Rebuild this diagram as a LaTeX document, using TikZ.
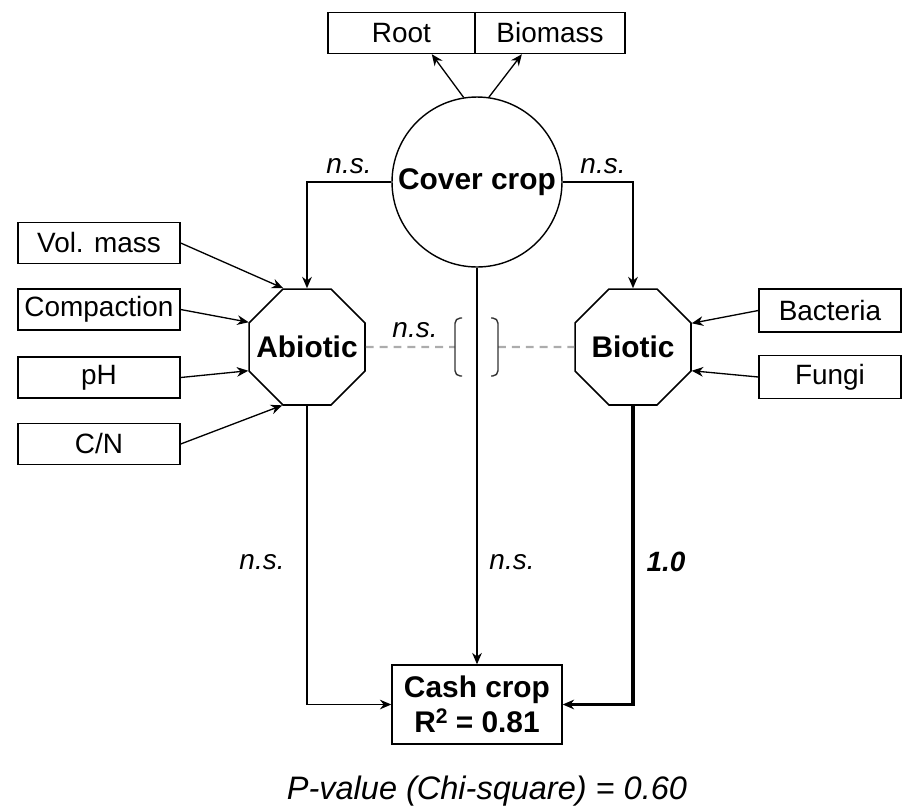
\documentclass[tikz,border=0pt]{standalone}
\usepackage{fontspec}
\setmainfont{Liberation Sans}
\usetikzlibrary{arrows.meta,shapes.geometric}

\begin{document}
\begin{tikzpicture}[x=0.02cm,y=-0.02cm,
  var/.style={draw,line width=0.8pt,minimum height=0.82cm,inner sep=0pt,font=\fontsize{15.9}{18}\selectfont},
  latent/.style={draw,line width=0.9pt,regular polygon,regular polygon sides=8,minimum size=2.51cm,inner sep=0pt,font=\fontsize{17}{20}\selectfont\bfseries},
  link/.style={line width=0.75pt,-{Stealth[length=6.5pt,width=5.5pt]}},
  gdash/.style={draw=gray!65,line width=1.3pt,dash pattern=on 4.5pt off 3.4pt},
  nslab/.style={font=\fontsize{15.9}{18}\selectfont\itshape}]
  \useasboundingbox (0,0) rectangle (907,806);
  % cover crop and its traits
  \node[circle,draw,line width=0.8pt,minimum size=3.4cm,inner sep=0pt,font=\fontsize{17}{20}\selectfont\bfseries] (cover) at (477,182) {Cover crop};
  \node[var,minimum width=2.94cm] (root) at (401.5,33) {Root};
  \node[var,minimum width=3cm] (bmass) at (550,33) {Biomass};
  \draw[link] (cover.99.7) -- (root.-35);
  \draw[link] (cover.82.4) -- (bmass.-143.5);
  % soil compartments
  \node[latent] (abio) at (307,347) {\makebox[0pt]{Abiotic}};
  \node[latent] (bio) at (633,347) {\makebox[0pt]{Biotic}};
  \foreach \j/\y/\a/\t in {1/243/112.5/Vol. mass,2/309.5/157.5/Compaction,3/377.5/202.5/pH,4/444/247.5/{C/N}} {
    \node[var,minimum width=3.24cm] (s\j) at (99,\y) {\t};
    \draw[link] (s\j.east) -- (abio.\a);
  }
  \foreach \j/\y/\a/\t in {1/310.5/22.5/Bacteria,2/377/-22.5/Fungi} {
    \node[var,minimum width=2.84cm,minimum height=0.86cm] (m\j) at (830,\y) {\t};
    \draw[link] (m\j.west) -- (bio.\a);
  }
  \node[var,minimum width=3.4cm,minimum height=1.58cm,align=center,font=\fontsize{17}{20}\selectfont\bfseries] (cash) at (477,704.5) {Cash crop\\R{\fontsize{12}{12}\selectfont\raisebox{5pt}{2}} = 0.81};
  \draw[link] (cover.west) -| (abio.north);
  \draw[link] (cover.east) -| (bio.north);
  \draw[link] (cover.south) -- (cash.north);
  \draw[link] (abio.south) |- (cash.west);
  \draw[link,line width=2pt] (bio.south) |- (cash.east);
  % covariance between compartments
  \coordinate (bl) at (455,347);
  \coordinate (br) at (498,347);
  \draw[gdash] (abio.east) -- (bl);
  \draw[gdash] (br) -- (bio.west);
  \draw[black!80,line width=0.8pt,rounded corners=3pt] (462,318) -- (455,318) -- (455,376) -- (462,376);
  \draw[black!80,line width=0.8pt,rounded corners=3pt] (491,318) -- (498,318) -- (498,376) -- (491,376);
  \node[nslab] (ns1) at (349,166) {n.s.};
  \node[nslab] (ns2) at (603,166) {n.s.};
  \node[nslab] (ns3) at (415,330) {n.s.};
  \node[nslab] (ns4) at (262,562) {n.s.};
  \node[nslab] (ns5) at (512,562) {n.s.};
  \node[font=\fontsize{15.9}{18}\selectfont\bfseries\itshape] (coef) at (666,562) {1.0};
  \node[font=\fontsize{18.5}{22}\selectfont\itshape] (pval) at (487,791) {P-value (Chi-square) = 0.60};
\end{tikzpicture}
\end{document}
